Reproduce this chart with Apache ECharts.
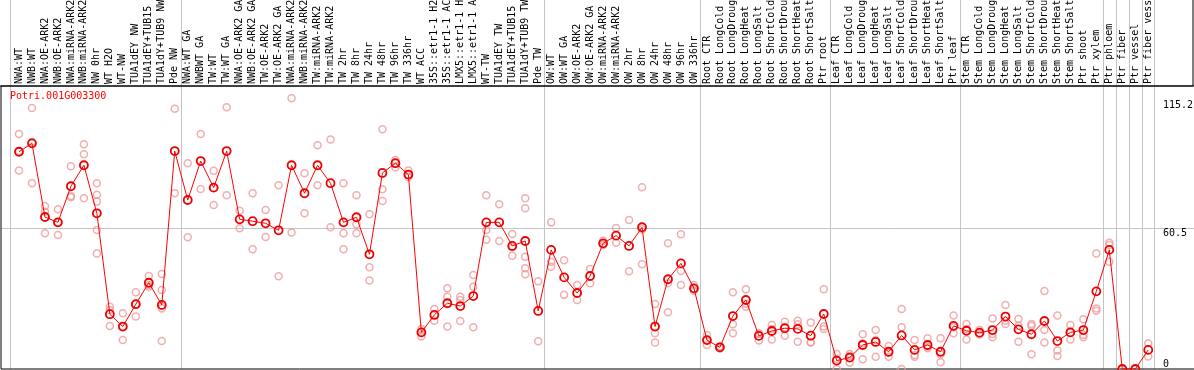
<!DOCTYPE html>
<html><head><meta charset="utf-8">
<script src="https://cdn.jsdelivr.net/npm/echarts@6/dist/echarts.min.js"></script>
<style>html,body{margin:0;padding:0;background:#fff}#c{width:1194px;height:370px}</style>
</head><body><div id="c"></div>
<script>
const geneId = 'Potri.001G003300';

const categories = [
  'NWA:WT','NWB:WT','NWA:OE-ARK2','NWB:OE-ARK2','NWA:miRNA-ARK2','NWB:miRNA-ARK2','NW 0hr','WT H2O','WT-NW','TUA1dEY NW','TUA1dEY+TUB15 NW','TUA1dY+TUB9 NW','Pde NW',
  'NWA:WT GA','NWBWT GA','TW:WT','TW:WT GA','NWA:OE-ARK2 GA','NWB:OE-ARK2 GA','TW:OE-ARK2','TW:OE-ARK2 GA','NWA:miRNA-ARK2 GA','NWB:miRNA-ARK2 GA','TW:miRNA-ARK2','TW:miRNA-ARK2 GA',
  'TW 2hr','TW 8hr','TW 24hr','TW 48hr','TW 96hr','TW 336hr','WT ACC','35S::etr1-1 H2O','35S::etr1-1 ACC','LMX5::etr1-1 H2O','LMX5::etr1-1 ACC','WT-TW','TUA1dEY TW','TUA1dEY+TUB15 TW','TUA1dY+TUB9 TW','Pde TW',
  'OW:WT','OW:WT GA','OW:OE-ARK2','OW:OE-ARK2 GA','OW:miRNA-ARK2','OW:miRNA-ARK2 GA','OW 2hr','OW 8hr','OW 24hr','OW 48hr','OW 96hr','OW 336hr',
  'Root CTR','Root LongCold','Root LongDrought','Root LongHeat','Root LongSalt','Root ShortCold','Root ShortDrought','Root ShortHeat','Root ShortSalt','Ptr root',
  'Leaf CTR','Leaf LongCold','Leaf LongDrought','Leaf LongHeat','Leaf LongSalt','Leaf ShortCold','Leaf ShortDrought','Leaf ShortHeat','Leaf ShortSalt','Ptr leaf',
  'Stem CTR','Stem LongCold','Stem LongDrought','Stem LongHeat','Stem LongSalt','Stem ShortCold','Stem ShortDrought','Stem ShortHeat','Stem ShortSalt','Ptr shoot','Ptr xylem',
  'Ptr phloem','Ptr fiber','Ptr vessel','Ptr fiber vessel'
];

const means = [
  93.2, 96.8, 65.2, 62.9, 78.4, 87.4, 66.8, 23.5, 18.2, 27.8, 37.0, 27.5, 93.5,
  72.5, 89.2, 77.8, 93.5, 64.2, 63.4, 62.5, 59.5, 87.4, 75.4, 87.4, 79.7, 62.9, 65.1, 49.2, 84.1, 88.3, 83.4, 15.7, 23.2, 28.2, 27.0, 31.3, 62.9, 62.9, 52.8, 54.9, 24.9,
  51.1, 39.3, 32.6, 39.9, 53.9, 57.2, 52.8, 60.8, 18.2, 38.5, 45.3, 34.6,
  12.4, 9.3, 22.7, 29.6, 14.2, 16.3, 17.5, 17.2, 14.3, 23.6,
  3.6, 4.9, 10.3, 11.6, 7.4, 14.4, 8.2, 10.3, 7.4, 18.5,
  16.4, 15.6, 16.7, 22.5, 17.0, 14.9, 20.6, 12.0, 15.7, 16.7, 33.3,
  51.1, 0, 0, 8.2
];

const replicates = [
  [100.8, 93.5, 85.2], [112.0, 97.4, 79.7], [69.9, 67.5, 58.2], [68.5, 62.8, 57.5], [87.0, 74.2, 73.7],
  [96.4, 92.1, 73.2], [79.7, 74.7, 71.8, 59.6, 49.6], [26.7, 25.3, 18.4], [23.9, 18.2, 12.4], [32.9, 27.8, 22.5],
  [39.9, 36.0, 35.3], [40.8, 33.9, 27.0, 26.0, 12.0], [111.6, 75.4],
  [88.3, 56.5], [100.8, 77.2], [85.0, 77.8, 70.4], [112.3, 74.5], [67.9, 60.4], [75.4, 51.4], [68.2, 56.6],
  [78.8, 39.8], [116.1, 58.6], [84.0, 66.8], [96.0, 78.8], [98.5, 60.8], [79.7, 58.2, 51.4], [74.5, 62.1, 58.2],
  [66.4, 43.6, 38.0], [102.8, 77.1, 72.1], [89.7, 88.3, 86.5], [85.1, 83.2, 82.3], [17.2, 16.0, 13.9], [25.7, 20.7],
  [34.6, 31.0, 18.2], [31.0, 29.6, 20.6], [40.3, 35.3, 17.9], [74.5, 59.6, 55.4], [70.7, 54.9], [57.9, 52.2, 48.6],
  [73.2, 69.0, 48.2, 43.2, 40.6], [37.6, 11.9],
  [62.9, 46.0, 43.9], [46.6, 31.8], [36.0, 29.6], [42.9, 36.8], [55.0, 53.5, 53.2], [60.5, 54.2], [63.9, 41.9],
  [78.0, 59.9, 44.9], [27.9, 15.3, 11.4], [53.9, 36.8, 24.3], [57.8, 42.0, 36.0], [36.0, 34.2, 33.6],
  [14.6, 12.4, 10.3], [9.8, 9.3, 8.8], [32.9, 19.2, 15.3], [34.2, 28.0, 26.7], [15.3, 15.0, 12.2], [18.9, 17.2, 12.7],
  [20.3, 17.8, 14.3], [20.7, 19.2, 11.7], [20.0, 11.5, 11.4], [34.2, 18.2, 17.2],
  [6.4, 4.4, 0], [6.4, 5.6, 2.7], [14.9, 11.0, 4.2], [16.7, 12.4, 5.3], [9.9, 7.0, 5.3], [25.7, 17.9, 0],
  [12.4, 6.0, 5.3], [13.2, 9.6, 8.9], [13.2, 6.3, 2.9], [23.0, 17.9, 15.3],
  [19.3, 17.2, 12.7], [16.7, 15.3, 14.8], [21.7, 15.0, 13.6], [27.5, 20.7, 19.3], [21.5, 18.5, 11.7], [19.3, 18.5, 6.3],
  [33.5, 16.7, 11.4], [23.0, 7.9, 5.6], [18.9, 15.6, 12.7], [21.3, 14.6, 13.6], [49.6, 26.0, 25.0],
  [54.2, 53.2, 46.0], [0, 0], [0, 0], [11.0, 5.4]
];

// category boundaries (in category-index units) where grey separators are drawn
const groupBreaks = [-0.65, 12.5, 40.5, 52.5, 62.5, 72.5, 83.5, 84.5, 85.5, 86.5, 87.5];
const yTickLabels = [0, 60.5, 115.2];
const yGridValues = [60.5];

const X_MIN = -1.386, X_MAX = 90.525, Y_MAX = 121.4;
const MONO = "'DejaVu Sans Mono', 'Liberation Mono', monospace";
const GREY = '#c4c4c4';

const meanData = means.map((v, i) => [i, v]);
const repData = [];
replicates.forEach((arr, i) => arr.forEach(v => repData.push([i, v])));

const hiddenX = gi => ({type: 'value', gridIndex: gi, min: 0, max: 1, show: false});
const hiddenY = gi => ({type: 'value', gridIndex: gi, min: 0, max: 1, show: false});

const chart = echarts.init(document.getElementById('c'), null, {renderer: 'canvas'});
chart.setOption({
  animation: false,
  backgroundColor: '#fff',
  title: {
    text: geneId, left: 10, top: 91, padding: 0,
    textStyle: {color: '#ff0000', fontFamily: MONO, fontSize: 10, fontWeight: 'normal'}
  },
  grid: [
    // 0: data plot
    {left: 1, right: 0, top: 86, bottom: 1, show: false, outerBoundsMode: 'none', containLabel: false},
    // 1: full-height grey separators
    {left: 1, right: 0, top: 0, bottom: 1, show: false, outerBoundsMode: 'none', containLabel: false},
    // 2: header with condition labels
    {left: 12.5, width: 1142.24, top: 0, height: 86, show: false, outerBoundsMode: 'none', containLabel: false},
    // 3: plot frame (left, top, bottom; right edge off-canvas)
    {left: 1, right: -3, top: 86, bottom: 1, show: true, borderColor: '#000', borderWidth: 1, backgroundColor: 'transparent', outerBoundsMode: 'none', containLabel: false, z: 3},
    // 4: header frame (right edge and bottom only)
    {left: -3, right: 1, top: -3, height: 89, show: true, borderColor: '#000', borderWidth: 1, backgroundColor: 'transparent', outerBoundsMode: 'none', containLabel: false, z: 3}
  ],
  xAxis: [
    {type: 'value', gridIndex: 0, min: X_MIN, max: X_MAX, axisLine: {show: false}, axisTick: {show: false}, axisLabel: {show: false}, splitLine: {show: false}},
    {type: 'value', gridIndex: 1, min: X_MIN, max: X_MAX, axisLine: {show: false},
      axisTick: {show: false, customValues: groupBreaks}, axisLabel: {show: false},
      splitLine: {show: true, lineStyle: {color: GREY, width: 1}}},
    {type: 'category', gridIndex: 2, data: categories, position: 'bottom', boundaryGap: true,
      axisLine: {show: false}, axisTick: {show: false}, splitLine: {show: false},
      axisLabel: {inside: true, rotate: 90, interval: 0, margin: 2, color: '#000', fontFamily: MONO, fontSize: 10, hideOverlap: false}},
    hiddenX(3), hiddenX(4)
  ],
  yAxis: [
    {type: 'value', gridIndex: 0, min: 0, max: Y_MAX, position: 'right',
      axisLine: {show: false}, axisTick: {show: false, customValues: yGridValues},
      splitLine: {show: true, lineStyle: {color: GREY, width: 1}},
      axisLabel: {inside: true, margin: 31, align: 'left', verticalAlign: 'top', verticalAlignMinLabel: 'bottom',
        customValues: yTickLabels, color: '#000', fontFamily: MONO, fontSize: 10, showMinLabel: true, showMaxLabel: true}},
    hiddenY(1), hiddenY(2), hiddenY(3), hiddenY(4)
  ],
  series: [
    {type: 'scatter', xAxisIndex: 0, yAxisIndex: 0, data: repData, symbol: 'circle', symbolSize: 7,
      itemStyle: {color: 'rgba(255,255,255,0)', borderColor: '#ee9a9a', borderWidth: 1.5}, z: 4, silent: true},
    {type: 'line', xAxisIndex: 0, yAxisIndex: 0, data: meanData, symbol: 'circle', symbolSize: 8, showAllSymbol: true,
      lineStyle: {color: '#ff0000', width: 1}, itemStyle: {color: 'rgba(255,255,255,0)', borderColor: '#ee0000', borderWidth: 1.8},
      z: 5, silent: true}
  ]
});
</script>
</body></html>
